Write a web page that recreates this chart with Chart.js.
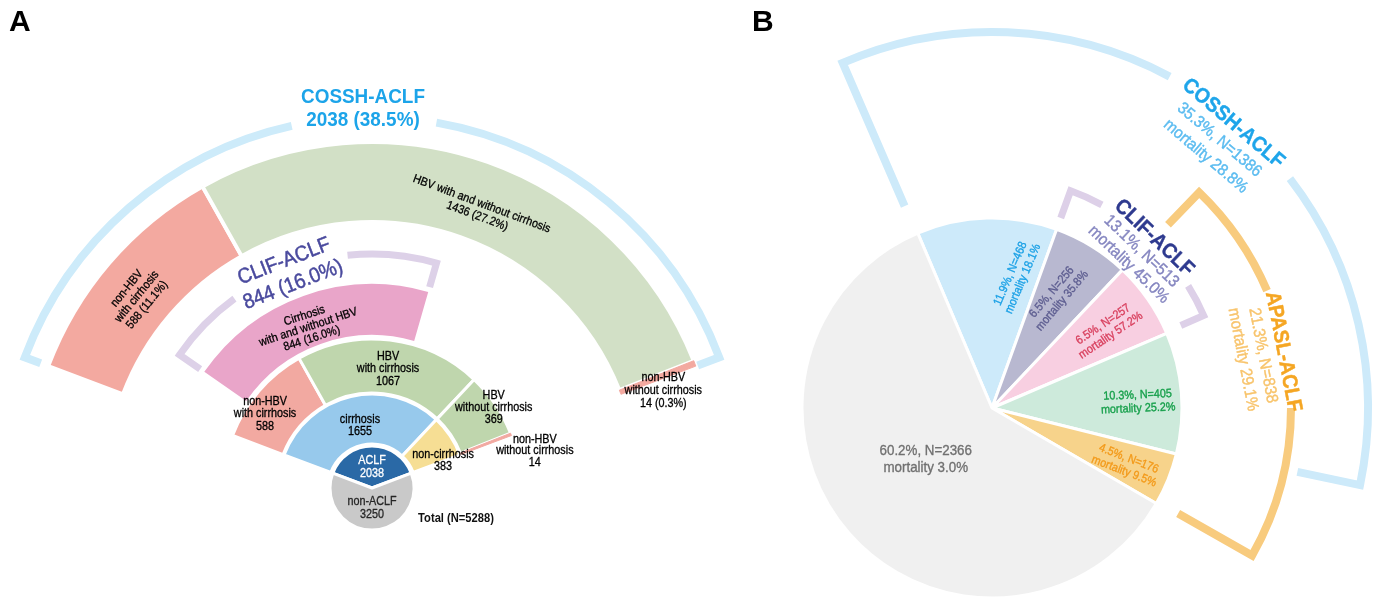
<!DOCTYPE html>
<html>
<head>
<meta charset="utf-8">
<script src="https://cdn.jsdelivr.net/npm/chart.js@4.4.1/dist/chart.umd.min.js"></script>
<style>
  html, body { margin: 0; padding: 0; background: #fff; overflow: hidden; }
  #wrap { position: relative; width: 1384px; height: 600px; }
  #wrap canvas { position: absolute; left: 0; top: 0; }
  .panel { position: absolute; font: bold 30px "Liberation Sans", Arial, sans-serif; line-height: 30px; color: #000; }
</style>
</head>
<body>
<div id="wrap">
  <canvas id="chartA" width="1384" height="600"></canvas>
  <canvas id="chartB" width="1384" height="600"></canvas>
  <div class="panel" style="left:9px;top:6px">A</div>
  <div class="panel" style="left:752px;top:6px">B</div>
</div>
<script>
// ---------- panel A : all patients (N = 5288) ----------
var totalN = 5288;

var coreNames  = ['ACLF', 'non-ACLF'];
var coreValues = [2038, 3250];

var ring1Names  = ['cirrhosis', 'non-cirrhosis'];
var ring1Values = [1655, 383];

var ring2Names  = [['non-HBV', 'with cirrhosis'], ['HBV', 'with cirrhosis'], ['HBV', 'without cirrhosis'], ['non-HBV', 'without cirrhosis']];
var ring2Values = [588, 1067, 369, 14];

var clifNames  = [['Cirrhosis', 'with and without HBV']];
var clifValues = [844];

var cosshNames  = [['non-HBV', 'with cirrhosis'], ['HBV with and without cirrhosis'], ['non-HBV', 'without cirrhosis']];
var cosshValues = [588, 1436, 14];

// ---------- panel B : ACLF definitions ----------
var sliceN         = [468, 256, 257, 405, 176, 2366];
var sliceMortality = [18.1, 35.8, 57.2, 25.2, 9.5, 3.0];

var groupNames     = ['COSSH-ACLF', 'CLIF-ACLF', 'APASL-ACLF'];
var groupFrom      = [0, 1, 2];   // first slice of the group
var groupTo        = [3, 2, 4];   // last slice of the group
var groupMortality = [28.8, 45.0, 29.1];


var FONT = '"Liberation Sans", Arial, sans-serif';

function pct(v, t) {
  return (v / t * 100).toFixed(1) + '%';
}
function rad(deg) {  // degrees from 12 o'clock -> canvas radians
  return (deg - 90) * Math.PI / 180;
}
function toDeg(a) {
  return a * 180 / Math.PI + 90;
}
function midDeg(el) {
  return toDeg((el.startAngle + el.endAngle) / 2);
}
function sum(arr, a, b) {
  var s = 0;
  for (var i = a; i <= b; i++) s += arr[i];
  return s;
}

// several lines stacked around (x, y), rotated by rot degrees, squeezed by sx
// heavy > 0 adds a thin outline of the same colour so small text looks a bit darker
function drawLines(ctx, x, y, rot, lines, fonts, colors, lh, sx, heavy) {
  ctx.save();
  ctx.translate(x, y);
  ctx.rotate(rot * Math.PI / 180);
  ctx.scale(sx || 1, 1);
  ctx.textAlign = 'center';
  ctx.textBaseline = 'middle';
  ctx.lineJoin = 'round';
  var y0 = -(lines.length - 1) * lh / 2;
  for (var i = 0; i < lines.length; i++) {
    ctx.font = Array.isArray(fonts) ? fonts[i] : fonts;
    ctx.fillStyle = Array.isArray(colors) ? colors[i] : colors;
    ctx.fillText(lines[i], 0, y0 + i * lh);
    if (heavy) {
      ctx.strokeStyle = ctx.fillStyle;
      ctx.lineWidth = heavy;
      ctx.strokeText(lines[i], 0, y0 + i * lh);
    }
  }
  ctx.restore();
}

// arc bracket with radial ticks at both ends and a gap for the label
function drawBracket(ctx, cx, cy, b, from, to) {
  ctx.save();
  ctx.strokeStyle = b.color;
  ctx.lineWidth = b.width;
  ctx.lineJoin = 'miter';
  ctx.lineCap = 'butt';
  ctx.beginPath();
  ctx.moveTo(cx + Math.cos(rad(from)) * b.tick0, cy + Math.sin(rad(from)) * b.tick0);
  ctx.arc(cx, cy, b.r, rad(from), rad(b.gap0));
  ctx.stroke();
  ctx.beginPath();
  ctx.arc(cx, cy, b.r, rad(b.gap1), rad(to));
  ctx.lineTo(cx + Math.cos(rad(to)) * b.tick1, cy + Math.sin(rad(to)) * b.tick1);
  ctx.stroke();
  ctx.restore();
}

function spacer(w) {
  return { data: [1], weight: w, backgroundColor: 'rgba(0,0,0,0)', borderWidth: 0 };
}

// ===================== chart A =====================
var aclfSpan = 360 * coreValues[0] / totalN;
var aclfStart = -aclfSpan / 2;

var labelsA = [  // ds = dataset index, i = element
  {ds: 9, i: 0, dAng: 0,    r: 21,  rot: 0,     lh: 13,   color: '#ffffff'},
  {ds: 9, i: 1, dAng: 0,    r: 20,  rot: 0,     lh: 13,   color: '#262626'},
  {ds: 7, i: 0, dAng: 2,    r: 63,  rot: 0,     lh: 12,   color: '#000'},
  {ds: 7, i: 1, dAng: 13,   r: 76,  rot: 0,     lh: 12,   color: '#000'},
  {ds: 5, i: 0, dAng: -6,   r: 130, rot: 0,     lh: 12.5, color: '#000'},
  {ds: 5, i: 1, dAng: 0.7,  r: 120, rot: 0,     lh: 12.5, color: '#000'},
  {ds: 5, i: 2, dAng: 0.6,  r: 146, rot: 0,     lh: 12,   color: '#000'},
  {ds: 5, i: 3, dAng: 8.3,  r: 167, rot: 0,     lh: 11.5, color: '#000'},
  {ds: 3, i: 0, dAng: -2,   r: 173, rot: -18,   lh: 12,   color: '#000'},
  {ds: 1, i: 0, dAng: -1.5, r: 303, rot: 'tan', lh: 13,   color: '#000'},
  {ds: 1, i: 1, dAng: 1.6,  r: 298, rot: 20.5,  lh: 13,   color: '#000'},
  {ds: 1, i: 2, dAng: 2.7,  r: 307, rot: 0,     lh: 13,   color: '#000'}
];

function textA(ds, i) {
  if (ds == 9) return [coreNames[i], String(coreValues[i])];
  if (ds == 7) return [ring1Names[i], String(ring1Values[i])];
  if (ds == 5) return ring2Names[i].concat([String(ring2Values[i])]);
  if (ds == 3) return clifNames[i].concat([clifValues[i] + ' (' + pct(clifValues[i], totalN) + ')']);
  return cosshNames[i].concat([cosshValues[i] + ' (' + pct(cosshValues[i], totalN) + ')']);
}

var bracketA = {
  cossh: {r: 371, width: 8, color: '#cdebfa', tick0: 354, tick1: 348, gap0: -12.5, gap1: 10},
  clif:  {r: 234, width: 7, color: '#ddd1e8', tick0: 209, tick1: 209, gap0: -36, gap1: -6}
};

var pluginA = {
  id: 'sunburstText',
  afterDatasetsDraw: function (chart) {
    var ctx = chart.ctx;
    var core = chart.getDatasetMeta(9).data[0];
    var cx = core.x, cy = core.y;

    // brackets: COSSH spans the ACLF slice, CLIF spans the pink ring
    drawBracket(ctx, cx, cy, bracketA.cossh, toDeg(core.startAngle), toDeg(core.endAngle));
    var pink = chart.getDatasetMeta(3).data[0];
    drawBracket(ctx, cx, cy, bracketA.clif, toDeg(pink.startAngle), toDeg(pink.endAngle));

    // ring labels
    for (var k = 0; k < labelsA.length; k++) {
      var L = labelsA[k];
      var el = chart.getDatasetMeta(L.ds).data[L.i];
      var ang = midDeg(el) + L.dAng;
      var x = cx + Math.cos(rad(ang)) * L.r;
      var y = cy + Math.sin(rad(ang)) * L.r;
      var rot = L.rot == 'tan' ? ang : L.rot;
      drawLines(ctx, x, y, rot, textA(L.ds, L.i), '12px ' + FONT, L.color, L.lh, 0.9, 0.3);
    }

    // COSSH title in the gap of the outer bracket
    var ta = -1.36, tr = 379.5;
    drawLines(ctx, cx + Math.cos(rad(ta)) * tr, cy + Math.sin(rad(ta)) * tr, 0,
      ['COSSH-ACLF', coreValues[0] + ' (' + pct(coreValues[0], totalN) + ')'],
      'bold 21px ' + FONT, '#1ca4e9', 23, 0.9);

    // CLIF title
    var ca = -21.2, cr = 230.5;
    drawLines(ctx, cx + Math.cos(rad(ca)) * cr, cy + Math.sin(rad(ca)) * cr, ca,
      ['CLIF-ACLF', clifValues[0] + ' (' + pct(clifValues[0], totalN) + ')'],
      '21px ' + FONT, '#4a4a9e', 25, 0.92, 0.5);

    // total
    drawLines(ctx, cx + 84, cy + 31, 0, ['Total (N=' + totalN + ')'],
      'bold 12px ' + FONT, '#111', 12, 0.93);
  }
};

new Chart('chartA', {
  type: 'doughnut',
  data: {
    datasets: [
      spacer(34),
      { // COSSH ring
        data: cosshValues, weight: 80,
        rotation: aclfStart, circumference: aclfSpan,
        backgroundColor: ['#f3a9a0', '#d2e0c6', '#f3a9a0'],
        borderColor: ['#fff', '#fff', '#f3a9a0'],
        borderWidth: [4, 4, 1]
      },
      spacer(62),
      { // CLIF ring
        data: clifValues, weight: 51,
        rotation: -55.3, circumference: 71.3,
        backgroundColor: '#e9a5c9', borderWidth: 0
      },
      spacer(4),
      {
        data: ring2Values, weight: 54,
        rotation: aclfStart, circumference: aclfSpan,
        backgroundColor: ['#f2a9a1', '#bfd6ad', '#bfd6ad', '#f2a9a1'],
        borderColor: ['#fff', '#fff', '#fff', '#f2a9a1'],
        borderWidth: [3, 3, 3, 1]
      },
      spacer(1),
      {
        data: ring1Values, weight: 50,
        rotation: aclfStart, circumference: aclfSpan,
        backgroundColor: ['#97c9ec', '#f6de94'],
        borderColor: '#fff', borderWidth: 3
      },
      spacer(2),
      {
        data: coreValues, weight: 42,
        rotation: aclfStart, circumference: 360,
        backgroundColor: ['#2a69a6', '#c9c9c9'],
        borderColor: '#fff', borderWidth: 3
      }
    ]
  },
  options: {
    responsive: false,
    animation: false,
    events: [],
    cutout: 0,
    radius: 380,
    layout: { padding: { left: 0, right: 640, top: 376, bottom: 0 } },
    plugins: { legend: { display: false }, tooltip: { enabled: false } }
  },
  plugins: [pluginA]
});

// ===================== chart B =====================
var totalB = sum(sliceN, 0, sliceN.length - 1);

var sliceColors    = ['#cdeafa', '#b8b8d0', '#f8cfe1', '#cdeadb', '#f7d38b', '#f0f0f0'];
var sliceTextColor = ['#1ba1e6', '#5d5d90', '#d9415f', '#16a04b', '#f39a1a', '#707070'];
var sliceLayout = [
  {dAng: 12.2, r: 134, rot: -67},
  {dAng: -1.4, r: 129, rot: -50},
  {dAng: 0.7,  r: 139, rot: -34},
  {dAng: 2.1,  r: 146, rot: -2.5},
  {dAng: 0.9,  r: 146, rot: 21},
  {dAng: 3.5,  r: 84,  rot: 0}
];
var groupStyle = [
  {r: 376, width: 8, color: '#cdeafa', tick0: 220, tick1: 312, adj0: -0.4, adj1: -2.2, gap0: 28.2, gap1: 52.4, dAng: -0.2, labelR: 351.5, lh: 21.5, title: '#1ea5ea', sub: '#5cbcf0'},
  {r: 231, width: 7, color: '#ddd0e8', tick0: 202, tick1: 206, adj0: 0,    adj1: -0.5, gap0: 28.4, gap1: 58.1, dAng: 0.2,  labelR: 216.5, lh: 18.5, title: '#2e3a8f', sub: '#8586c0'},
  {r: 299, width: 8, color: '#f8cb7e', tick0: 254, tick1: 214, adj0: 0.5,  adj1: -0.6, gap0: 66.9, gap1: 90,   dAng: -2.7, labelR: 276,   lh: 20.5, title: '#f5a623', sub: '#f8c46c'}
];

var pluginB = {
  id: 'pieText',
  afterDatasetsDraw: function (chart) {
    var ctx = chart.ctx;
    var arcs = chart.getDatasetMeta(0).data;
    var cx = arcs[0].x, cy = arcs[0].y;

    // slice labels
    for (var i = 0; i < arcs.length; i++) {
      var L = sliceLayout[i];
      var ang = midDeg(arcs[i]) + L.dAng;
      var big = i == arcs.length - 1;
      drawLines(ctx, cx + Math.cos(rad(ang)) * L.r, cy + Math.sin(rad(ang)) * L.r, L.rot,
        [pct(sliceN[i], totalB) + ', N=' + sliceN[i], 'mortality ' + sliceMortality[i].toFixed(1) + '%'],
        (big ? '15px ' : '12px ') + FONT, sliceTextColor[i], big ? 17 : 13.5, big ? 0.89 : 0.9, 0.35);
    }

    // group brackets, then labels on top
    for (var g = 0; g < groupNames.length; g++) {
      var s = groupStyle[g];
      var from = toDeg(arcs[groupFrom[g]].startAngle) + s.adj0;
      var to = toDeg(arcs[groupTo[g]].endAngle) + s.adj1;
      drawBracket(ctx, cx, cy, s, from, to);
    }
    for (var g = 0; g < groupNames.length; g++) {
      var s = groupStyle[g];
      var n = sum(sliceN, groupFrom[g], groupTo[g]);
      var ang = (toDeg(arcs[groupFrom[g]].startAngle) + toDeg(arcs[groupTo[g]].endAngle)) / 2 + s.dAng;
      drawLines(ctx, cx + Math.cos(rad(ang)) * s.labelR, cy + Math.sin(rad(ang)) * s.labelR, ang,
        [groupNames[g], pct(n, totalB) + ', N=' + n, 'mortality ' + groupMortality[g].toFixed(1) + '%'],
        ['bold 21px ' + FONT, '16.5px ' + FONT, '16.5px ' + FONT],
        [s.title, s.sub, s.sub], s.lh, 0.92, 0.4);
    }
  }
};

new Chart('chartB', {
  type: 'pie',
  data: {
    labels: sliceN.map(function (v, i) { return 'slice ' + (i + 1); }),
    datasets: [{
      data: sliceN,
      backgroundColor: sliceColors,
      borderColor: '#fff',
      borderWidth: 3
    }]
  },
  options: {
    responsive: false,
    animation: false,
    events: [],
    rotation: -23,
    radius: 190,
    layout: { padding: { left: 800, right: 200, top: 216, bottom: 0 } },
    plugins: { legend: { display: false }, tooltip: { enabled: false } }
  },
  plugins: [pluginB]
});
</script>
</body>
</html>
